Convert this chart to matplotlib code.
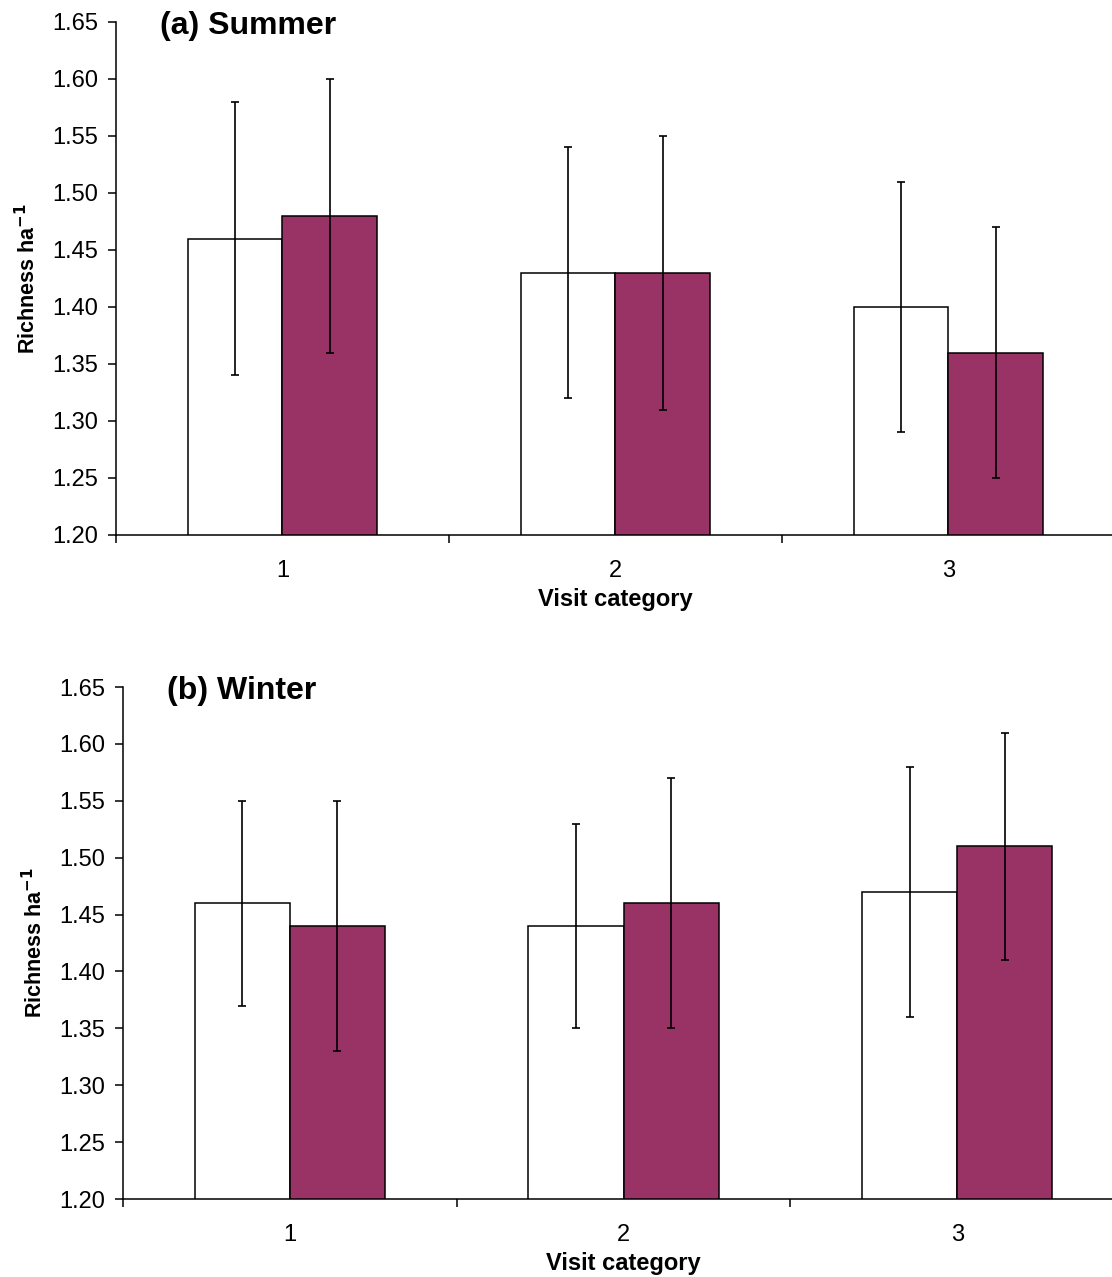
import numpy as np
import matplotlib.pyplot as plt
from matplotlib.ticker import FixedLocator, NullFormatter

plt.rcParams['font.family'] = ['Liberation Sans', 'DejaVu Sans']

categories = ["1", "2", "3"]

# (a) Summer
summer_white = [1.46, 1.43, 1.40]
summer_white_err = [0.12, 0.11, 0.11]
summer_purple = [1.48, 1.43, 1.36]
summer_purple_err = [0.12, 0.12, 0.11]

# (b) Winter
winter_white = [1.46, 1.44, 1.47]
winter_white_err = [0.09, 0.09, 0.11]
winter_purple = [1.44, 1.46, 1.51]
winter_purple_err = [0.11, 0.11, 0.10]

yticks = [1.20, 1.25, 1.30, 1.35, 1.40, 1.45, 1.50, 1.55, 1.60, 1.65]

W, H = 1112, 1277
fig = plt.figure(figsize=(W / 100, H / 100), dpi=100)

purple = "#993366"
bw = 0.285


def panel(px, white, werr, purp, perr, title, title_xy):
    left, top, right, bottom = px
    ax = fig.add_axes([left / W, 1 - bottom / H, (right - left) / W, (bottom - top) / H])
    x = np.arange(1, len(categories) + 1)
    ax.bar(x - bw / 2, white, bw, color="white", edgecolor="black", linewidth=1.1)
    ax.bar(x + bw / 2, purp, bw, color=purple, edgecolor="black", linewidth=1.1)
    ax.errorbar(x - bw / 2, white, yerr=werr, fmt="none", ecolor="black",
                elinewidth=1.2, capsize=3, capthick=1.2)
    ax.errorbar(x + bw / 2, purp, yerr=perr, fmt="none", ecolor="black",
                elinewidth=1.2, capsize=3, capthick=1.2)
    ax.set_ylim(1.20, 1.65)
    ax.set_xlim(0.5, 3.5)
    ax.set_yticks(yticks)
    ax.set_yticklabels([f"{v:.2f}" for v in yticks])
    ax.set_xticks(x)
    ax.set_xticklabels(categories)
    ax.xaxis.set_minor_locator(FixedLocator([0.5, 1.5, 2.5, 3.5]))
    ax.xaxis.set_minor_formatter(NullFormatter())
    ax.tick_params(axis="x", which="major", length=0, pad=18, labelsize=17)
    ax.tick_params(axis="x", which="minor", length=6, width=1.1, direction="out")
    ax.tick_params(axis="y", length=6, width=1.1, direction="out", labelsize=17, pad=7)
    for s in ["top", "right"]:
        ax.spines[s].set_visible(False)
    ax.spines["left"].set_linewidth(1.1)
    ax.spines["bottom"].set_linewidth(1.1)
    ax.set_xlabel("Visit category", fontsize=17, fontweight="bold", labelpad=4)
    ax.set_ylabel("Richness ha$^{\\mathbf{-1}}$", fontsize=15.5, fontweight="bold")
    ax.yaxis.set_label_coords(-0.076, 0.5)
    fig.text(title_xy[0] / W, 1 - title_xy[1] / H, title, fontsize=23,
             fontweight="bold", ha="left", va="center")
    return ax


panel((116, 22, 1115, 535),
      summer_white, summer_white_err, summer_purple, summer_purple_err,
      "(a) Summer", (160, 26))
panel((123, 687, 1124, 1199),
      winter_white, winter_white_err, winter_purple, winter_purple_err,
      "(b) Winter", (167, 691))

fig.savefig("out.png", dpi=100)
